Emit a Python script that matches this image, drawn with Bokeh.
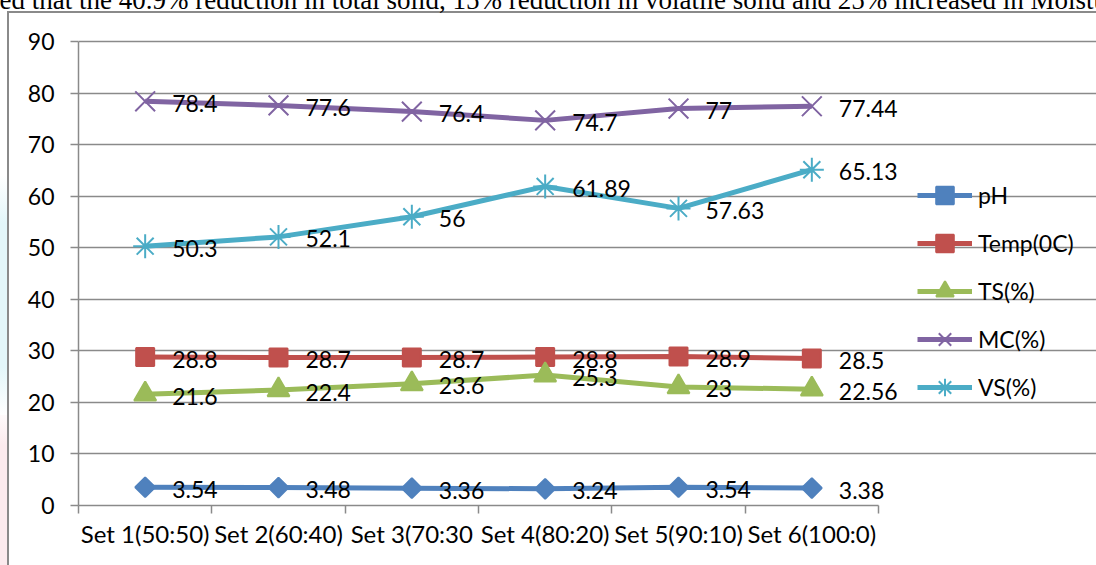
import math

from bokeh.core.properties import value
from bokeh.embed import file_html
from bokeh.models import (ColumnDataSource, FixedTicker, Label, Legend,
                          LegendItem, Range1d)
from bokeh.plotting import figure
from bokeh.resources import INLINE

# ---- data -------------------------------------------------------------
categories = ["Set 1(50:50)", "Set 2(60:40)", "Set 3(70:30", "Set 4(80:20)",
              "Set 5(90:10)", "Set 6(100:0)"]
ph = [3.54, 3.48, 3.36, 3.24, 3.54, 3.38]
temp = [28.8, 28.7, 28.7, 28.8, 28.9, 28.5]
ts = [21.6, 22.4, 23.6, 25.3, 23, 22.56]
mc = [78.4, 77.6, 76.4, 74.7, 77, 77.44]
vs = [50.3, 52.1, 56, 61.89, 57.63, 65.13]
y_ticks = [0, 10, 20, 30, 40, 50, 60, 70, 80, 90]

series = [
    ("pH", ph, "#4F81BD", "square", 14, math.pi / 4),
    ("Temp(0C)", temp, "#C0504D", "square", 18, 0),
    ("TS(%)", ts, "#9BBB59", "triangle", 22, 0),
    ("MC(%)", mc, "#8064A2", "x", 28, 0),
    ("VS(%)", vs, "#4BACC6", "asterisk", 24, 0),
]

FONT = "Lato"
GRID = "#8a8a8a"

# category slots are one unit wide; points sit at the slot centres
n = len(categories)
xs = [i + 0.5 for i in range(n)]

# frame spans the plot area plus the room used by the legend
px_per_cat = 800 / n
px_per_unit = 464 / 90
TOP = 30
p = figure(width=1096, height=565, output_backend="svg", toolbar_location=None,
           x_range=Range1d(0, 1018 / px_per_cat),
           y_range=Range1d(0, (505 - TOP) / px_per_unit),
           min_border_left=78, min_border_right=0, min_border_top=TOP,
           min_border_bottom=60)
p.outline_line_color = None
p.background_fill_color = None
p.border_fill_color = None

# chart border and the faint page decoration at the far left
p.styles = {
    "background-color": "white",
    "background-image": ", ".join([
        f"linear-gradient({GRID}, {GRID})",
        f"linear-gradient({GRID}, {GRID})",
        "linear-gradient(#ffffff, #e3f6f9 20%, #e3f6f9 80%, #ffffff)",
        "linear-gradient(#ffffff, #fcebee 25%, #fcebee)",
    ]),
    "background-position": "8px 11px, 7px 11px, 0px 175px, 0px 405px",
    "background-size": "100% 2px, 2px 100%, 7px 240px, 7px 160px",
    "background-repeat": "no-repeat",
}

# y axis and horizontal gridlines
yax = p.yaxis[0]
yax.ticker = FixedTicker(ticks=y_ticks)
yax.bounds = (0, 90)
yax.axis_line_color = GRID
yax.axis_line_width = 1.5
yax.major_tick_line_color = GRID
yax.major_tick_line_width = 1.5
yax.major_tick_out = 8
yax.major_tick_in = 0
yax.minor_tick_line_color = None
yax.major_label_standoff = 16
yax.major_label_text_font = FONT
yax.major_label_text_font_size = "23px"
yax.major_label_text_color = "black"

p.ygrid.ticker = FixedTicker(ticks=y_ticks)
p.ygrid.bounds = (0, n)
p.ygrid.grid_line_color = GRID
p.ygrid.grid_line_width = 1.5
p.xgrid.grid_line_color = None

# x axis: labels at slot centres, boundary ticks between slots
xax = p.xaxis[0]
xax.ticker = FixedTicker(ticks=xs, minor_ticks=list(range(n + 1)))
xax.major_label_overrides = {x: c for x, c in zip(xs, categories)}
xax.bounds = (0, n)
xax.axis_line_color = GRID
xax.axis_line_width = 1.5
xax.major_tick_line_color = None
xax.major_tick_out = 0
xax.major_tick_in = 0
xax.minor_tick_line_color = GRID
xax.minor_tick_line_width = 1.5
xax.minor_tick_out = 8
xax.minor_tick_in = 0
xax.major_label_standoff = 5
xax.major_label_text_font = FONT
xax.major_label_text_font_size = "24px"
xax.major_label_text_color = "black"

# series
items = []
label_sources = []
for name, vals, color, marker, size, angle in series:
    src = ColumnDataSource(dict(x=xs, y=vals, txt=[f"{v:g}" for v in vals]))
    ln = p.line("x", "y", source=src, line_color=color, line_width=5)
    mk = p.scatter("x", "y", source=src, marker=marker, size=size, angle=angle,
                   fill_color=color, line_color=color, line_width=2)
    items.append(LegendItem(label=name, renderers=[ln, mk]))
    label_sources.append(src)

# value labels to the right of each point
for src in label_sources:
    p.text("x", "y", text="txt", source=src, x_offset=27, y_offset=2,
           text_align="left", text_baseline="middle",
           text_font=value(FONT), text_font_size="23px", text_color="black")

legend = Legend(items=items, location=(839, 96), orientation="vertical",
                glyph_width=55, glyph_height=44, label_height=44,
                label_standoff=6, spacing=4, padding=0, margin=0,
                border_line_alpha=0, background_fill_alpha=0,
                label_text_font=FONT, label_text_font_size="23px",
                label_text_color="black")
p.add_layout(legend)

# running text of the page just above the chart
p.add_layout(Label(x=-79, y=TOP + 1, x_units="screen", y_units="screen",
                   text="ed that the 40.9% reduction in total solid, 15% reduction in "
                        "volatile solid and 25% increased in Moistu",
                   text_font="Liberation Serif", text_font_size="27px",
                   text_color="black", text_baseline="alphabetic"), "above")

open("out.html", "w").write(file_html(p, INLINE))
